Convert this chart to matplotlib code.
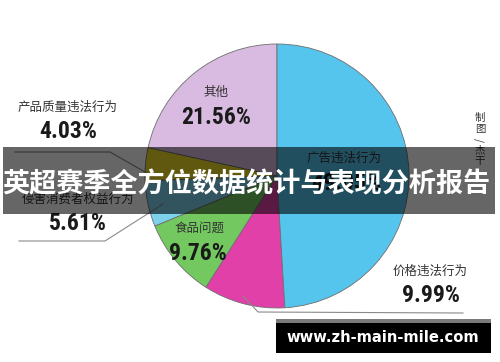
import matplotlib
matplotlib.use("Agg")
import matplotlib.pyplot as plt
from matplotlib.patches import Rectangle

# ---- data ----
categories = ["其他", "产品质量违法行为", "侵害消费者权益行为", "食品问题", "价格违法行为", "广告违法行为"]
values = [21.56, 4.03, 5.61, 9.76, 9.99, 49.05]
value_labels = ["21.56%", "4.03%", "5.61%", "9.76%", "9.99%", "49.05%"]
colors = ["#d9bbe2", "#f2dc26", "#7dd2eb", "#73c95f", "#e040a8", "#55c5ed"]
title = "英超赛季全方位数据统计与表现分析报告"
watermark = "www.zh-main-mile.com"
credit = ["制", "图", "/", "杰", "干"]

CJK = ["Noto Sans CJK SC", "DejaVu Sans"]
NUM = ["Roboto Condensed", "Liberation Sans Narrow", "DejaVu Sans"]

W, H = 500, 362
fig = plt.figure(figsize=(W / 100, H / 100), dpi=100)
fig.patch.set_facecolor("white")
ax = fig.add_axes([0, 0, 1, 1])

# pie (y axis inverted -> startangle -90, clockwise in data = counter-clockwise on screen)
ax.pie(values, colors=colors, center=(277, 176), radius=132, startangle=-90,
       counterclock=False, wedgeprops=dict(edgecolor="#6e6e6e", linewidth=0.6))
ax.set_xlim(0, W)
ax.set_ylim(H, 0)
ax.set_aspect("equal", adjustable="box")
ax.axis("off")

small = dict(fontsize=9, color="#333333", family=CJK, ha="center", va="center", zorder=3)
big = dict(fontsize=17, color="#1a1a1a", family=NUM, fontweight="bold", ha="center", va="center", zorder=3)

# labels (positions in pixel space)
label_pos = {
    "其他": ((216, 92), (216, 118)),
    "产品质量违法行为": ((68, 107), (68, 132)),
    "侵害消费者权益行为": ((78, 199), (78, 223)),
    "食品问题": ((200, 228), (198, 254)),
    "价格违法行为": ((430, 271), (431, 295)),
    "广告违法行为": ((344, 158), (346, 184)),
}
for cat, vl in zip(categories, value_labels):
    (tx, ty), (vx, vy) = label_pos[cat]
    ax.text(tx, ty, cat, **small)
    ax.text(vx, vy, vl, **big)

# leader lines
line_kw = dict(color="#8a8a8a", lw=0.8, zorder=3)
ax.plot([15, 110, 152], [152, 152, 176], **line_kw)
ax.plot([19, 105, 163], [241, 241, 204], **line_kw)
ax.plot([243, 258, 463], [296, 312, 313], **line_kw)

# credit (vertical)
for i, ch in enumerate(credit):
    ax.text(480, 118 + i * 10.8, ch, fontsize=7.5, color="#333333", family=CJK,
            ha="center", va="center", rotation=(90 if ch == "/" else 0), zorder=3)

# banner overlay
ax.add_patch(Rectangle((3, 147), 492, 67, facecolor="black", alpha=0.6, edgecolor="none", zorder=5))
ax.text(246, 184, title, fontsize=19.5, color="white", fontweight="bold", family=CJK,
        ha="center", va="center", zorder=6)

# watermark
ax.add_patch(Rectangle((276, 319), 215, 4, facecolor="#7a7a7a", edgecolor="none", zorder=5))
ax.add_patch(Rectangle((276, 323), 215, 30, facecolor="black", edgecolor="none", zorder=5))
ax.text(383, 338, watermark, fontsize=10.6, color="white", fontweight="bold", family=["DejaVu Sans"],
        ha="center", va="center", zorder=6)

fig.savefig("out.png", dpi=100, facecolor="white")
